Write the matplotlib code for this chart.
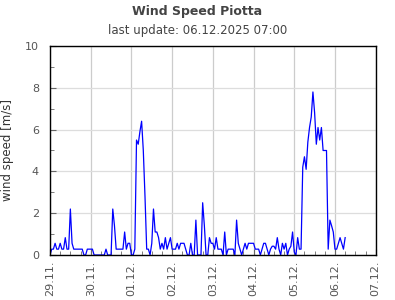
import matplotlib
matplotlib.use('Agg')
import matplotlib.pyplot as plt
import matplotlib.dates as mdates
import pandas as pd

# hourly wind speed [m/s], starting 29.11.2025 00:00
d29 = [0, 0.28, 0.28, 0.56, 0.28, 0.28, 0.56, 0.28, 0.28, 0.83, 0.28, 0.28,
       2.2, 0.56, 0.28, 0.28, 0.28, 0.28, 0.28, 0.28, 0, 0, 0.28, 0.28]
d30 = [0.28, 0.28, 0, 0, 0, 0, 0, 0, 0, 0.28, 0, 0,
       0, 2.2, 1.4, 0.28, 0.28, 0.28, 0.28, 0.28, 1.1, 0.28, 0.56, 0.56]
d01 = [0, 0, 0.28, 5.5, 5.3, 5.9, 6.4, 5.0, 2.8, 0.28, 0.28, 0,
       0.56, 2.2, 1.1, 1.1, 0.83, 0.28, 0.56, 0.28, 0.83, 0.28, 0.56, 0.83]
d02 = [0.28, 0.28, 0.28, 0.56, 0.28, 0.56, 0.56, 0.56, 0.28, 0, 0, 0.56,
       0, 0, 1.67, 0, 0, 0, 2.5, 1.4, 0, 0, 0.83, 0.56]
d03 = [0.56, 0.28, 0.83, 0.28, 0.28, 0.28, 0, 1.1, 0, 0.28, 0.28, 0.28,
       0.28, 0, 1.67, 0.56, 0.28, 0, 0.28, 0.56, 0.28, 0.56, 0.56, 0.56]
d04 = [0.56, 0.28, 0.28, 0.28, 0, 0.28, 0.56, 0.56, 0.28, 0, 0.28, 0.42,
       0.42, 0.28, 0.83, 0.28, 0, 0.56, 0.28, 0.56, 0, 0.28, 0.42, 1.1]
d05 = [0.14, 0, 0.83, 0.28, 0.28, 4.2, 4.7, 4.1, 5.4, 6.1, 6.6, 7.8,
       6.8, 5.3, 6.1, 5.5, 6.1, 5.0, 5.0, 5.0, 0.28, 1.67, 1.4, 1.1]
d06 = [0.28, 0.28, 0.56, 0.83, 0.56, 0.28, 0.83]

speed = d29 + d30 + d01 + d02 + d03 + d04 + d05 + d06
times = pd.date_range('2025-11-29 00:00', periods=len(speed), freq='h')

title = 'Wind Speed Piotta'
subtitle = 'last update: 06.12.2025 07:00'
ylabel = 'wind speed [m/s]'

fig = plt.figure(figsize=(3.95, 3.0), dpi=100)
ax = fig.add_axes([0.1266, 0.15, 0.8245, 0.6967])

ax.plot(times, speed, color='#0000ff', lw=0.9)

ax.set_xlim(pd.Timestamp('2025-11-29'), pd.Timestamp('2025-12-07'))
ax.set_ylim(0, 10)
ax.xaxis.set_major_locator(mdates.DayLocator())
ax.xaxis.set_minor_locator(mdates.HourLocator(byhour=[6, 12, 18]))
ax.xaxis.set_major_formatter(mdates.DateFormatter('%d.%m.'))
ax.set_yticks([0, 2, 4, 6, 8, 10])
ax.set_yticks([1, 3, 5, 7, 9], minor=True)

ax.grid(axis='x', which='major', color='#cccccc', lw=0.9)
ax.grid(axis='y', which='major', color='#dddddd', lw=0.9)
ax.set_axisbelow(True)

ax.tick_params(which='both', direction='in', color='#666666', labelcolor='#555555',
               labelsize=8)
ax.tick_params(which='major', length=4)
ax.tick_params(which='minor', length=3)
ax.tick_params(axis='x', rotation=90, pad=4)
ax.tick_params(axis='y', pad=8)
for s in ax.spines.values():
    s.set_linewidth(1.0)
    s.set_color('black')

ax.set_ylabel(ylabel, fontsize=8.5, color='#333333', labelpad=8)

fig.text(0.5, 0.963, title, ha='center', va='center', fontsize=9,
         fontweight='bold', color='#444444')
fig.text(0.5, 0.897, subtitle, ha='center', va='center', fontsize=8.5,
         color='#444444')

fig.savefig('out.png', dpi=100)
